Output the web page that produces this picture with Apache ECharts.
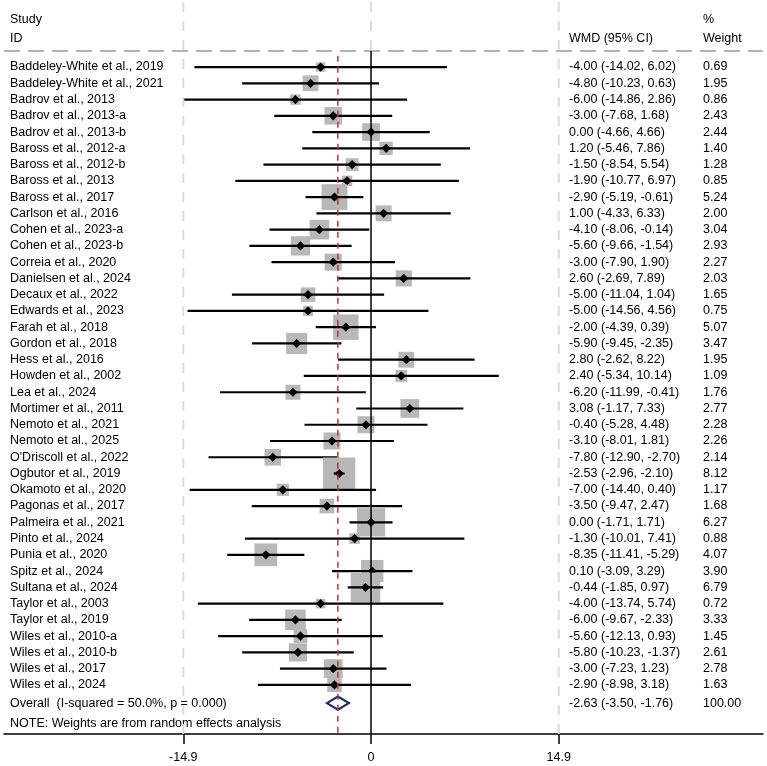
<!DOCTYPE html>
<html>
<head>
<meta charset="utf-8">
<script src="https://cdn.jsdelivr.net/npm/echarts@6/dist/echarts.min.js"></script>
<style>
  html, body { margin: 0; padding: 0; background: #fff; }
  #chart { width: 767px; height: 766px; }
</style>
</head>
<body>
<div id="chart"></div>
<script>
const studies = [
  "Baddeley-White et al., 2019", "Baddeley-White et al., 2021", "Badrov et al., 2013",
  "Badrov et al., 2013-a", "Badrov et al., 2013-b", "Baross et al., 2012-a",
  "Baross et al., 2012-b", "Baross et al., 2013", "Baross et al., 2017",
  "Carlson et al., 2016", "Cohen et al., 2023-a", "Cohen et al., 2023-b",
  "Correia et al., 2020", "Danielsen et al., 2024", "Decaux et al., 2022",
  "Edwards et al., 2023", "Farah et al., 2018", "Gordon et al., 2018",
  "Hess et al., 2016", "Howden et al., 2002", "Lea et al., 2024",
  "Mortimer et al., 2011", "Nemoto et al., 2021", "Nemoto et al., 2025",
  "O'Driscoll et al., 2022", "Ogbutor et al., 2019", "Okamoto et al., 2020",
  "Pagonas et al., 2017", "Palmeira et al., 2021", "Pinto et al., 2024",
  "Punia et al., 2020", "Spitz et al., 2024", "Sultana et al., 2024",
  "Taylor et al., 2003", "Taylor et al., 2019", "Wiles et al., 2010-a",
  "Wiles et al., 2010-b", "Wiles et al., 2017", "Wiles et al., 2024"
];
const wmd = [-4.00, -4.80, -6.00, -3.00, 0.00, 1.20, -1.50, -1.90, -2.90, 1.00,
  -4.10, -5.60, -3.00, 2.60, -5.00, -5.00, -2.00, -5.90, 2.80, 2.40,
  -6.20, 3.08, -0.40, -3.10, -7.80, -2.53, -7.00, -3.50, 0.00, -1.30,
  -8.35, 0.10, -0.44, -4.00, -6.00, -5.60, -5.80, -3.00, -2.90];
const lower = [-14.02, -10.23, -14.86, -7.68, -4.66, -5.46, -8.54, -10.77, -5.19, -4.33,
  -8.06, -9.66, -7.90, -2.69, -11.04, -14.56, -4.39, -9.45, -2.62, -5.34,
  -11.99, -1.17, -5.28, -8.01, -12.90, -2.96, -14.40, -9.47, -1.71, -10.01,
  -11.41, -3.09, -1.85, -13.74, -9.67, -12.13, -10.23, -7.23, -8.98];
const upper = [6.02, 0.63, 2.86, 1.68, 4.66, 7.86, 5.54, 6.97, -0.61, 6.33,
  -0.14, -1.54, 1.90, 7.89, 1.04, 4.56, 0.39, -2.35, 8.22, 10.14,
  -0.41, 7.33, 4.48, 1.81, -2.70, -2.10, 0.40, 2.47, 1.71, 7.41,
  -5.29, 3.29, 0.97, 5.74, -2.33, 0.93, -1.37, 1.23, 3.18];
const weight = [0.69, 1.95, 0.86, 2.43, 2.44, 1.40, 1.28, 0.85, 5.24, 2.00,
  3.04, 2.93, 2.27, 2.03, 1.65, 0.75, 5.07, 3.47, 1.95, 1.09,
  1.76, 2.77, 2.28, 2.26, 2.14, 8.12, 1.17, 1.68, 6.27, 0.88,
  4.07, 3.90, 6.79, 0.72, 3.33, 1.45, 2.61, 2.78, 1.63];

const overallLabel = "Overall  (I-squared = 50.0%, p = 0.000)";
const overall = { est: -2.63, lo: -3.50, hi: -1.76, weight: 100.00 };
const noteText = "NOTE: Weights are from random effects analysis";
const tickValues = [-14.9, 0, 14.9];

const FONT = "'Liberation Sans', Arial, sans-serif";
const FS = 12.5;
const X_MIN = -29.13, X_MAX = 31.11;
const Y_MIN = -4, Y_MAX = 41.02;
const HEAD_Y = -0.98;
const overallRow = studies.length + 0.12;
const noteRow = studies.length + 1.4;

const colStudy = 10, colWmd = 569, colWt = 703;

function ciText(e, l, h) {
  return e.toFixed(2) + " (" + l.toFixed(2) + ", " + h.toFixed(2) + ")";
}

const rows = studies.map((s, i) => [i, wmd[i], lower[i], upper[i], weight[i]]);

const chart = echarts.init(document.getElementById("chart"), null, { renderer: "canvas" });

const option = {
  backgroundColor: "#fff",
  animation: false,
  grid: { left: 4, right: 4, top: 2, bottom: 32 },
  xAxis: {
    type: "value",
    min: X_MIN,
    max: X_MAX,
    axisLine: { show: true, onZero: false, lineStyle: { color: "#000", width: 1.5 } },
    axisTick: { show: true, customValues: tickValues, length: 10, lineStyle: { color: "#000", width: 1.5 } },
    axisLabel: {
      show: true, customValues: tickValues, margin: 17,
      color: "#000", fontSize: FS, fontFamily: FONT,
      formatter: v => String(v)
    },
    splitLine: { show: false }
  },
  yAxis: {
    type: "value",
    inverse: true,
    min: Y_MIN,
    max: Y_MAX,
    show: false
  },
  graphic: [
    { type: "text", left: colStudy, top: 13, style: { text: "Study", font: FS + "px " + FONT, fill: "#000" } },
    { type: "text", left: colStudy, top: 32, style: { text: "ID", font: FS + "px " + FONT, fill: "#000" } },
    { type: "text", left: colWmd, top: 32, style: { text: "WMD (95% CI)", font: FS + "px " + FONT, fill: "#000" } },
    { type: "text", left: colWt, top: 13, style: { text: "%", font: FS + "px " + FONT, fill: "#000" } },
    { type: "text", left: colWt, top: 32, style: { text: "Weight", font: FS + "px " + FONT, fill: "#000" } }
  ],
  series: [
    // grid lines at the labelled ticks
    {
      type: "line", symbol: "none", silent: true,
      data: [[-14.9, Y_MIN], [-14.9, Y_MAX]],
      lineStyle: { color: "#dcdcdc", width: 2, type: [10, 9] }
    },
    {
      type: "line", symbol: "none", silent: true,
      data: [[14.9, Y_MIN], [14.9, Y_MAX]],
      lineStyle: { color: "#dcdcdc", width: 2, type: [10, 9] }
    },
    {
      type: "line", symbol: "none", silent: true,
      data: [[0, Y_MIN], [0, HEAD_Y]],
      lineStyle: { color: "#dcdcdc", width: 2, type: [10, 9] }
    },
    // header separator
    {
      type: "line", symbol: "none", silent: true,
      data: [[X_MIN, HEAD_Y], [X_MAX, HEAD_Y]],
      lineStyle: { color: "#b4b4b4", width: 2, type: [16, 8] }
    },
    // null line
    {
      type: "line", symbol: "none", silent: true,
      data: [[0, HEAD_Y], [0, Y_MAX]],
      lineStyle: { color: "#000", width: 1.5 }
    },
    // overall effect line
    {
      type: "line", symbol: "none", silent: true,
      data: [[overall.est, -0.7], [overall.est, Y_MAX]],
      lineStyle: { color: "#b8323f", width: 1.5, type: [6, 5] }
    },
    // studies
    {
      type: "custom",
      clip: false,
      data: rows,
      encode: { x: [1, 2, 3], y: 0 },
      renderItem: function (params, api) {
        const i = api.value(0);
        const e = api.value(1), l = api.value(2), h = api.value(3), w = api.value(4);
        const pE = api.coord([e, i]);
        const pL = api.coord([l, i]);
        const pH = api.coord([h, i]);
        const y = pE[1];
        const side = 11.3 * Math.sqrt(w);
        const d = 4.6;
        return {
          type: "group",
          children: [
            { type: "rect", shape: { x: pE[0] - side / 2, y: y - side / 2, width: side, height: side }, style: { fill: "#b8b8b8" } },
            { type: "line", shape: { x1: pL[0], y1: y, x2: pH[0], y2: y }, style: { stroke: "#000", lineWidth: 2.2 } },
            { type: "polygon", shape: { points: [[pE[0], y - d], [pE[0] + d, y], [pE[0], y + d], [pE[0] - d, y]] }, style: { fill: "#000" } },
            { type: "text", x: colStudy, y: y, style: { text: studies[i], font: FS + "px " + FONT, fill: "#000", verticalAlign: "middle" } },
            { type: "text", x: colWmd, y: y, style: { text: ciText(e, l, h), font: FS + "px " + FONT, fill: "#000", verticalAlign: "middle" } },
            { type: "text", x: colWt, y: y, style: { text: w.toFixed(2), font: FS + "px " + FONT, fill: "#000", verticalAlign: "middle" } }
          ]
        };
      }
    },
    // overall diamond + note
    {
      type: "custom",
      clip: false,
      data: [[overallRow, overall.est, overall.lo, overall.hi, overall.weight]],
      encode: { x: [1, 2, 3], y: 0 },
      renderItem: function (params, api) {
        const r = api.value(0);
        const pE = api.coord([api.value(1), r]);
        const pL = api.coord([api.value(2), r]);
        const pH = api.coord([api.value(3), r]);
        const y = pE[1];
        const yn = api.coord([0, noteRow])[1];
        const hh = 6.5;
        return {
          type: "group",
          children: [
            { type: "polygon", shape: { points: [[pL[0], y], [pE[0], y - hh], [pH[0], y], [pE[0], y + hh]] }, style: { fill: "#fff", stroke: "#1c2a7e", lineWidth: 2.2 } },
            { type: "text", x: colStudy, y: y, style: { text: overallLabel, font: FS + "px " + FONT, fill: "#000", verticalAlign: "middle" } },
            { type: "text", x: colWmd, y: y, style: { text: ciText(api.value(1), api.value(2), api.value(3)), font: FS + "px " + FONT, fill: "#000", verticalAlign: "middle" } },
            { type: "text", x: colWt, y: y, style: { text: api.value(4).toFixed(2), font: FS + "px " + FONT, fill: "#000", verticalAlign: "middle" } },
            { type: "text", x: colStudy, y: yn, style: { text: noteText, font: FS + "px " + FONT, fill: "#000", verticalAlign: "middle" } }
          ]
        };
      }
    }
  ]
};

chart.setOption(option);
window.addEventListener("resize", () => chart.resize());
</script>
</body>
</html>
